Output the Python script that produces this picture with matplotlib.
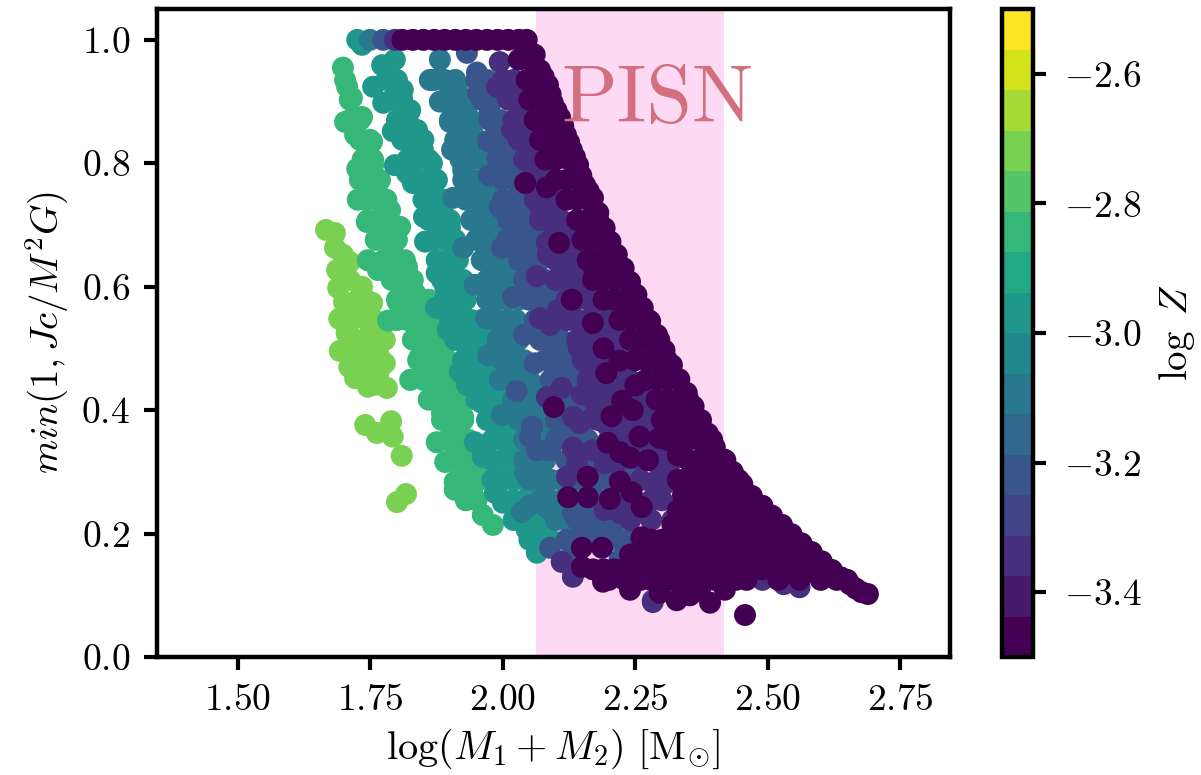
import numpy as np
import matplotlib
matplotlib.use('Agg')
import matplotlib.pyplot as plt
from matplotlib.colors import Normalize

plt.rcParams['font.family'] = 'cmr10'
plt.rcParams['mathtext.fontset'] = 'cm'
plt.rcParams['axes.formatter.use_mathtext'] = True

# (log total mass, min(1, Jc/M^2G)), one list per metallicity
pts_m272 = [(1.666,.692),(1.683,.687),(1.683,.663),(1.698,.652),(1.687,.627),(1.711,.64),(1.689,.598),
    (1.711,.611),(1.734,.60),(1.753,.574),(1.726,.579),(1.691,.548),(1.715,.546),(1.749,.538),(1.758,.546),
    (1.721,.514),(1.758,.506),(1.777,.514),(1.692,.496),(1.725,.476),(1.777,.476),(1.749,.473),(1.721,.452),
    (1.745,.438),(1.781,.436),(1.758,.441),(1.74,.376),(1.789,.382),(1.792,.357),(1.762,.363),(1.809,.326),
    (1.80,.251),(1.817,.264),(1.70,.575),(1.73,.56),(1.74,.58),(1.705,.525),(1.74,.515),(1.77,.53),
    (1.71,.50),(1.74,.49),(1.765,.49),(1.71,.47),(1.765,.46),(1.735,.455)]
pts_m284 = [(1.698,.955),(1.706,.924),(1.715,.906),(1.702,.867),(1.734,.875),(1.721,.846),(1.753,.835),
    (1.74,.81),(1.725,.791),(1.755,.797),(1.745,.773),(1.726,.741),(1.768,.746),(1.743,.705),(1.787,.724),
    (1.764,.681),(1.806,.697),(1.745,.643),(1.764,.627),(1.792,.655),(1.819,.632),(1.802,.575),(1.834,.59),
    (1.783,.545),(1.825,.551),(1.858,.567),(1.838,.519),(1.881,.53),(1.843,.486),(1.887,.498),(1.825,.449),
    (1.868,.454),(1.894,.454),(1.875,.421),(1.913,.417),(1.885,.395),(1.925,.389),(1.875,.348),(1.913,.363),
    (1.913,.347),(1.891,.316),(1.925,.324),(1.909,.284),(1.909,.271),(1.951,.298),(1.942,.271),(1.962,.23),
    (1.981,.214)]
rows_m284 = [(.935,[1.702]),(.903,[1.711]),(.870,[1.711,1.73]),(.838,[1.73,1.749]),(.806,[1.735,1.755]),
    (.773,[1.73,1.749,1.768]),(.741,[1.74,1.76,1.78]),(.708,[1.745,1.765,1.785]),(.676,[1.76,1.78,1.80]),
    (.643,[1.775,1.795,1.815]),(.611,[1.79,1.81,1.83]),(.579,[1.80,1.82,1.84,1.86]),(.546,[1.80,1.82,1.84,1.86]),
    (.514,[1.83,1.85,1.87,1.88]),(.481,[1.84,1.86,1.88,1.895]),(.449,[1.85,1.87,1.885,1.905]),
    (.417,[1.86,1.88,1.90,1.92]),(.384,[1.885,1.905,1.925]),(.352,[1.895,1.915,1.935]),(.319,[1.90,1.92,1.94]),
    (.287,[1.915,1.935,1.955]),(.254,[1.93,1.95])]
pts_m297 = [(1.725,1.0),(1.734,.992),(1.772,.959),(1.796,.968),(1.755,.924),(1.787,.94),(1.774,.898),
    (1.811,.919),(1.825,.886),(1.792,.852),(1.838,.854),(1.849,.822),(1.796,.797),(1.819,.784),(1.83,.768),
    (1.866,.80),(1.875,.773),(1.858,.746),(1.887,.73),(1.851,.713),(1.853,.673),(1.90,.697),(1.913,.671),
    (1.875,.622),(1.891,.60),(1.874,.566),(1.913,.574),(1.896,.53),(1.932,.546),(1.932,.502),(1.957,.525),
    (1.919,.462),(1.97,.476),(1.932,.441),(1.97,.444),(1.96,.412),(2.0,.433),(1.994,.395),(2.026,.389),
    (2.0,.363),(2.019,.34),(1.947,.348),(1.962,.324),(1.998,.352),(2.019,.324),(1.985,.284),(1.985,.266),
    (2.0,.25),(2.045,.206),(2.064,.169),(2.075,.203)]
rows_m297 = [(.935,[1.78,1.80]),(.903,[1.79,1.81]),(.870,[1.80,1.82]),(.838,[1.81,1.83,1.85]),(.806,[1.82,1.84,1.86]),
    (.773,[1.835,1.855,1.875]),(.741,[1.85,1.87,1.89]),(.708,[1.86,1.88,1.90]),(.676,[1.87,1.89,1.91]),
    (.643,[1.875,1.895,1.915]),(.611,[1.885,1.905,1.925]),(.579,[1.89,1.91,1.93]),(.546,[1.90,1.92,1.94,1.96]),
    (.514,[1.91,1.93,1.95,1.97]),(.481,[1.925,1.945,1.965,1.985]),(.449,[1.94,1.96,1.98,2.0]),
    (.417,[1.95,1.97,1.99,2.01]),(.384,[1.97,1.99,2.01,2.03]),(.352,[1.98,2.0,2.02]),(.319,[1.98,2.0,2.02,2.04]),
    (.287,[1.98,2.0,2.02,2.04]),(.254,[2.0,2.02,2.04,2.06]),(.222,[2.02,2.04,2.06,2.08]),(.19,[2.05,2.07,2.09])]
pts_m309 = [(1.749,1.0),(1.862,.935),(1.881,.968),(1.881,.90),(1.913,.924),(1.90,.867),(1.932,.891),
    (1.904,.822),(1.943,.849),(1.925,.789),(1.957,.81),(1.906,.744),(1.943,.752),(1.975,.768),(1.97,.724),
    (1.994,.697),(1.925,.663),(1.951,.676),(1.97,.655),(1.947,.603),(2.0,.63),(1.981,.60),(2.026,.611),
    (1.968,.549),(2.008,.546),(1.972,.489),(2.019,.498),(2.008,.476),(1.994,.449),(2.032,.46),(1.998,.392),
    (2.019,.408),(2.057,.40),(2.07,.437),(2.075,.373),(2.042,.298),(2.075,.282),(2.036,.235),(2.051,.246),
    (2.085,.241),(2.132,.233),(2.183,.201),(2.208,.19)]
rows_m309 = [(.935,[1.87,1.89,1.91]),(.903,[1.89,1.91,1.93]),(.870,[1.90,1.92,1.94]),(.838,[1.91,1.93,1.95]),
    (.806,[1.92,1.94,1.96]),(.773,[1.925,1.945,1.965]),(.741,[1.93,1.95,1.97]),(.708,[1.94,1.96,1.98]),
    (.676,[1.95,1.97,1.99]),(.643,[1.96,1.98,2.0]),(.611,[1.97,1.99,2.01]),(.579,[1.97,1.99,2.01,2.03]),
    (.546,[1.985,2.005,2.025]),(.514,[1.99,2.01,2.03]),(.481,[2.0,2.02,2.04]),(.449,[2.01,2.03,2.05]),
    (.417,[2.02,2.04,2.06]),(.384,[2.03,2.05,2.07]),(.352,[2.04,2.06,2.08]),(.319,[2.04,2.06,2.08]),
    (.287,[2.05,2.07,2.09,2.11]),(.254,[2.07,2.09,2.11,2.13]),(.222,[2.10,2.12,2.14,2.16]),(.19,[2.12,2.14,2.16,2.18,2.20])]
pts_m322 = [(1.774,1.0),(1.932,.979),(1.951,.947),(1.953,.914),(1.975,.886),(1.972,.836),(1.994,.859),
    (1.991,.809),(2.019,.833),(1.974,.78),(2.026,.80),(1.994,.729),(2.026,.729),(2.057,.724),(2.008,.676),
    (2.051,.692),(2.038,.664),(1.998,.663),(2.026,.663),(2.07,.648),(2.019,.583),(2.057,.595),(2.094,.606),
    (2.04,.522),(2.07,.525),(2.06,.476),(2.094,.486),(2.132,.502),(2.14,.476),(2.026,.431),(2.055,.373),
    (2.051,.357),(2.108,.384),(2.085,.335),(2.064,.335),(2.089,.335),(2.089,.177),(2.121,.19),(2.132,.233),
    (2.177,.201),(2.208,.201),(2.283,.092),(2.24,.295),(2.089,.692),(2.102,.606),(2.132,.546)]
rows_m322 = [(.935,[1.95,1.97]),(.903,[1.96,1.98]),(.870,[1.975,1.995]),(.838,[1.98,2.0,2.02]),(.806,[1.99,2.01,2.03]),
    (.773,[2.0,2.02,2.04]),(.741,[2.0,2.02,2.04]),(.708,[2.01,2.03,2.05]),(.676,[2.02,2.04,2.06]),
    (.643,[2.03,2.05,2.07]),(.611,[2.04,2.06,2.08]),(.579,[2.05,2.07,2.09]),(.546,[2.06,2.08,2.10]),
    (.514,[2.07,2.09,2.11]),(.481,[2.08,2.10,2.12]),(.449,[2.09,2.11,2.13,2.15]),(.417,[2.09,2.11,2.13,2.15]),
    (.384,[2.10,2.12,2.14,2.16]),(.352,[2.10,2.12,2.14,2.16]),(.319,[2.12,2.14,2.16,2.18]),(.287,[2.14,2.16,2.18,2.20]),
    (.254,[2.16,2.18,2.20,2.22]),(.222,[2.14,2.16,2.18,2.20,2.24]),(.19,[2.14,2.16,2.22,2.24]),(.157,[2.12,2.22,2.26])]
pts_m334 = [(1.796,1.0),(1.994,.964),(1.989,.924),(2.008,.93),(2.019,.903),(2.036,.891),(2.017,.854),
    (2.032,.838),(2.057,.81),(2.07,.789),(2.07,.729),(2.094,.713),(2.126,.703),(2.083,.671),(2.085,.652),
    (2.121,.64),(2.064,.617),(2.158,.611),(2.17,.578),(2.104,.562),(2.07,.549),(2.089,.538),(2.143,.502),
    (2.164,.465),(2.111,.436),(2.083,.421),(2.149,.425),(2.132,.389),(2.17,.389),(2.136,.335),(2.17,.335),
    (2.132,.339),(2.14,.314),(2.121,.292),(2.192,.314),(2.192,.238),(2.221,.233),(2.296,.308),(2.283,.282),
    (2.309,.282),(2.302,.33),(2.132,.13),(2.111,.154),(2.145,.379),(2.196,.376),(2.258,.379),(2.283,.089),
    (2.17,.60),(2.202,.562),(2.49,.125),(2.53,.118),(2.56,.113)]
rows_m334 = [(.935,[2.0,2.02]),(.903,[2.01,2.03]),(.870,[2.02,2.04]),(.838,[2.03,2.05]),(.806,[2.04,2.06]),
    (.773,[2.05,2.07,2.09]),(.741,[2.06,2.08,2.10]),(.708,[2.07,2.09,2.11]),(.676,[2.09,2.11,2.13]),
    (.643,[2.10,2.12,2.14]),(.611,[2.10,2.12,2.14,2.16]),(.579,[2.12,2.14,2.16,2.18]),(.546,[2.12,2.14,2.16,2.18,2.20]),
    (.514,[2.14,2.16,2.18,2.20,2.22]),(.481,[2.15,2.17,2.19,2.21,2.23]),(.449,[2.16,2.18,2.20,2.22,2.24]),
    (.417,[2.17,2.19,2.21,2.23,2.25,2.27]),(.384,[2.18,2.20,2.22,2.24,2.26,2.28]),(.352,[2.20,2.22,2.24,2.26,2.28,2.30]),
    (.319,[2.20,2.22,2.26,2.28,2.30,2.32]),(.287,[2.22,2.26,2.30,2.32,2.34]),(.254,[2.24,2.28,2.30,2.34]),
    (.222,[2.24,2.28,2.32]),(.19,[2.26,2.30])]
pts_m347 = [(1.81,1.0),(1.83,1.0),(1.85,1.0),(1.87,1.0),(1.89,1.0),(1.91,1.0),(1.93,1.0),(1.95,1.0),
    (1.97,1.0),(1.99,1.0),(2.01,1.0),(2.03,1.0),(2.045,1.0),
    # upper envelope
    (2.06,.976),(2.07,.951),(2.085,.927),(2.094,.898),(2.108,.874),(2.119,.846),(2.13,.822),(2.142,.797),
    (2.155,.765),(2.17,.744),(2.192,.695),(2.215,.652),(2.24,.608),(2.264,.566),(2.291,.522),(2.319,.473),
    (2.347,.428),(2.374,.384),(2.40,.34),(2.434,.30),(2.47,.261),(2.508,.229),(2.545,.199),(2.583,.17),
    (2.621,.141),(2.655,.118),(2.677,.105),(2.689,.102),
    (2.077,.94),(2.09,.912),(2.101,.886),(2.114,.86),(2.125,.834),(2.136,.81),(2.148,.78),(2.162,.755),
    (2.18,.72),(2.203,.673),(2.228,.63),(2.252,.587),(2.278,.544),(2.305,.497),(2.333,.45),(2.36,.406),
    (2.387,.362),(2.417,.32),(2.452,.28),(2.49,.245),(2.527,.214),(2.564,.184),(2.602,.155),(2.638,.129),
    (2.666,.111),
    # bottom edge and scattered blobs
    (2.149,.177),(2.187,.177),(2.149,.146),(2.189,.122),(2.221,.141),(2.24,.109),(2.243,.162),(2.262,.194),
    (2.302,.19),(2.283,.136),(2.328,.092),(2.391,.088),(2.372,.109),(2.296,.104),(2.353,.10),(2.419,.109),
    (2.123,.259),(2.16,.259),(2.16,.292),(2.202,.256),(2.221,.284),(2.243,.267),(2.262,.243),(2.198,.347),
    (2.221,.332),(2.24,.323),(2.274,.319),(2.258,.357),(2.296,.355),(2.33,.327),(2.042,.768),(2.083,.761),
    (2.106,.671),(2.13,.579),(2.096,.405),(2.17,.541),(2.168,.636),(2.19,.50),(2.22,.48),(2.195,.46),
    (2.225,.415),(2.205,.39),(2.25,.44),(2.245,.40),(2.457,.068)]
rows_m347 = [(.968,[2.03,2.05]),(.935,[2.045,2.065]),(.903,[2.05,2.07,2.085]),(.870,[2.06,2.08,2.10]),
    (.838,[2.07,2.09,2.11]),(.806,[2.08,2.10,2.125]),(.773,[2.10,2.12,2.14]),(.741,[2.12,2.14,2.16]),
    (.708,[2.14,2.16,2.18]),(.676,[2.15,2.17,2.19]),(.643,[2.16,2.18,2.20]),(.611,[2.17,2.19,2.21,2.23]),
    (.579,[2.19,2.21,2.23,2.25]),(.546,[2.22,2.24,2.26,2.275]),(.514,[2.24,2.26,2.28,2.295]),(.481,[2.25,2.27,2.29,2.31]),
    (.449,[2.27,2.29,2.31,2.33]),(.417,[2.29,2.31,2.33,2.35]),(.384,[2.30,2.32,2.34,2.36,2.37]),
    (.352,[2.31,2.33,2.35,2.37,2.38,2.395]),(.319,[2.35,2.37,2.39,2.41,2.42]),
    (.287,[2.33,2.35,2.37,2.39,2.41,2.43,2.445]),(.262,[2.34,2.36,2.38,2.40,2.42,2.44,2.46]),
    (.238,[2.33,2.35,2.37,2.39,2.41,2.43,2.45,2.47,2.49]),
    (.214,[2.32,2.34,2.36,2.38,2.40,2.42,2.44,2.46,2.48,2.50,2.52]),
    (.19,[2.28,2.31,2.33,2.35,2.37,2.39,2.41,2.43,2.45,2.47,2.49,2.51,2.53,2.55]),
    (.166,[2.24,2.26,2.28,2.30,2.32,2.34,2.36,2.38,2.40,2.42,2.44,2.46,2.48,2.50,2.52,2.54,2.56,2.58]),
    (.142,[2.17,2.19,2.21,2.25,2.27,2.29,2.31,2.33,2.35,2.37,2.39,2.41,2.43,2.45,2.47,2.49,2.51,2.53,2.55,2.57,2.59,2.61]),
    (.125,[2.20,2.23,2.26,2.28,2.30,2.32,2.34,2.36,2.38,2.40,2.42,2.44,2.46,2.52,2.56,2.60,2.63,2.65])]

groups = [(-2.72, pts_m272, []), (-2.84, pts_m284, rows_m284), (-2.97, pts_m297, rows_m297),
          (-3.09, pts_m309, rows_m309), (-3.22, pts_m322, rows_m322), (-3.34, pts_m334, rows_m334),
          (-3.47, pts_m347, rows_m347)]

x_ticks = [1.50, 1.75, 2.00, 2.25, 2.50, 2.75]
y_ticks = [0.0, 0.2, 0.4, 0.6, 0.8, 1.0]
z_ticks = [-3.4, -3.2, -3.0, -2.8, -2.6]

W, H = 1201, 775
fig = plt.figure(figsize=(W / 100, H / 100), dpi=100)
ax = fig.add_axes([157 / W, 1 - 657 / H, (950 - 157) / W, (657 - 9) / H])
cax = fig.add_axes([1002 / W, 1 - 657 / H, (1033 - 1002) / W, (657 - 9) / H])

cmap = plt.get_cmap('viridis', 16)
norm = Normalize(-3.5, -2.5)

ax.axvspan(2.062, 2.417, color='#fdd9f3', lw=0, zorder=1)
sc = None
for z, pts, rows in groups:
    xs = [p[0] for p in pts]
    ys = [p[1] for p in pts]
    for y, row in rows:
        xs += row
        ys += [y] * len(row)
    sc = ax.scatter(xs, ys, c=np.full(len(xs), z), cmap=cmap, norm=norm,
                    s=250, linewidths=0, zorder=2)

ax.text(2.11, 0.867, 'PISN', fontsize=59, color='#d2707f', zorder=3)

ax.set_xlim(1.347, 2.844)
ax.set_ylim(0, 1.05)
ax.set_xticks(x_ticks)
ax.set_xticklabels([f'${v:.2f}$' for v in x_ticks])
ax.set_yticks(y_ticks)
ax.set_yticklabels([f'${v:.1f}$' for v in y_ticks])
ax.set_xlabel(r'$\log(M_1 + M_2)\ [\mathrm{M}_{\odot}]$', fontsize=29, labelpad=7)
ax.set_ylabel(r'$min(1, Jc/M^2G)$', fontsize=28, labelpad=7)
ax.tick_params(width=3, length=9.5, labelsize=27, pad=10)
for s in ax.spines.values():
    s.set_linewidth(3.2)

cb = fig.colorbar(sc, cax=cax, ticks=z_ticks)
cb.ax.set_yticklabels([f'${v:.1f}$' for v in z_ticks])
cb.ax.tick_params(width=3, length=9.5, labelsize=27, pad=13)
cb.outline.set_linewidth(3.2)
cb.set_label(r'$\log\ Z$', fontsize=28, labelpad=11)

fig.savefig('out.png', dpi=100)
